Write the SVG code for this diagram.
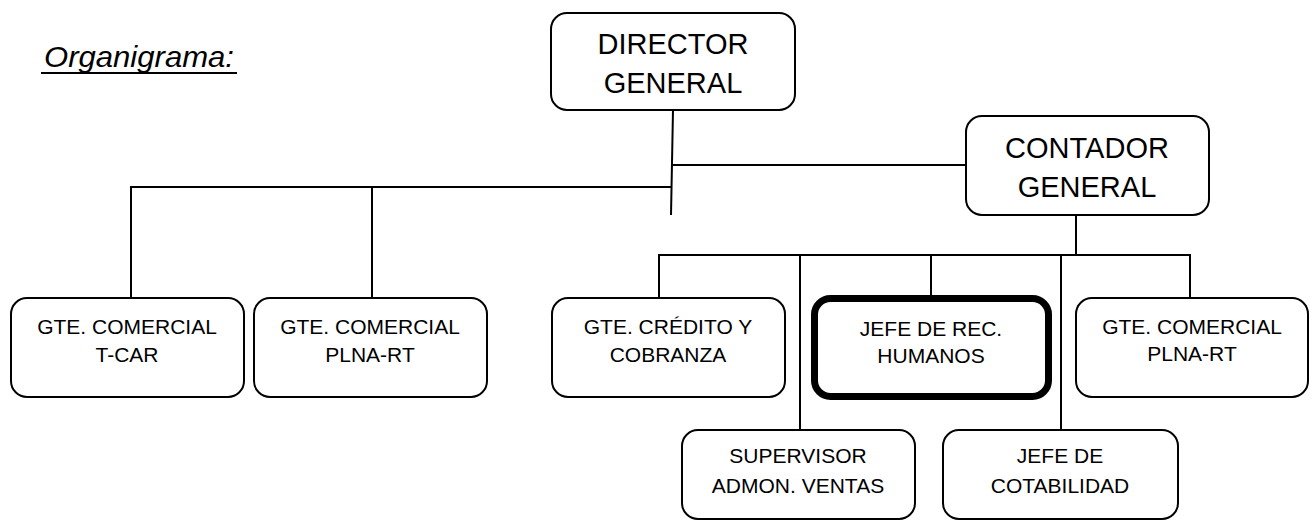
<svg xmlns="http://www.w3.org/2000/svg" width="1312" height="522" viewBox="0 0 1312 522">
  <style>
    .box { fill: #ffffff; stroke: #000000; stroke-width: 2; }
    .box-bold { fill: #ffffff; stroke: #000000; stroke-width: 7; }
    .link { fill: none; stroke: #000000; stroke-width: 2; }
    text { font-family: "Liberation Sans", Arial, sans-serif; fill: #000000; text-anchor: middle; }
    .big { font-size: 29px; }
    .small { font-size: 21px; }
    .title { font-size: 29px; font-style: italic; text-anchor: start; }
  </style>

  <rect width="1312" height="522" fill="#ffffff"/>

  <!-- heading -->
  <g id="title">
    <text class="title" x="44" y="67" textLength="190" lengthAdjust="spacingAndGlyphs">Organigrama:</text>
    <line x1="41" y1="73" x2="237" y2="73" stroke="#000000" stroke-width="2"/>
  </g>

  <!-- connectors -->
  <g id="connectors">
    <line class="link" x1="673" y1="110" x2="671" y2="215"/>
    <line class="link" x1="672" y1="165" x2="966" y2="165"/>
    <polyline class="link" points="131,298 131,187 672,187"/>
    <line class="link" x1="372" y1="187" x2="372" y2="298"/>
    <line class="link" x1="1076" y1="215" x2="1076" y2="255"/>
    <polyline class="link" points="659,298 659,255 1190,255 1190,298"/>
    <line class="link" x1="800" y1="255" x2="800" y2="430"/>
    <line class="link" x1="931" y1="255" x2="931" y2="296"/>
    <line class="link" x1="1061" y1="255" x2="1061" y2="430"/>
  </g>

  <g id="director-general">
    <rect class="box" x="551" y="13" width="244" height="97" rx="16"/>
    <text class="big" x="673" y="54">DIRECTOR</text>
    <text class="big" x="673" y="93">GENERAL</text>
  </g>

  <g id="contador-general">
    <rect class="box" x="966" y="116" width="243" height="99" rx="16"/>
    <text class="big" x="1087" y="158">CONTADOR</text>
    <text class="big" x="1087" y="197">GENERAL</text>
  </g>

  <g id="gte-comercial-tcar">
    <rect class="box" x="11" y="298" width="233" height="99" rx="16"/>
    <text class="small" x="127" y="334">GTE. COMERCIAL</text>
    <text class="small" x="127" y="362">T-CAR</text>
  </g>

  <g id="gte-comercial-plna-rt-1">
    <rect class="box" x="254" y="298" width="233" height="99" rx="16"/>
    <text class="small" x="370" y="334">GTE. COMERCIAL</text>
    <text class="small" x="370" y="362">PLNA-RT</text>
  </g>

  <g id="gte-credito-cobranza">
    <rect class="box" x="552" y="298" width="233" height="99" rx="16"/>
    <text class="small" x="668" y="334">GTE. CRÉDITO Y</text>
    <text class="small" x="668" y="362">COBRANZA</text>
  </g>

  <g id="jefe-rec-humanos">
    <rect class="box-bold" x="814.5" y="298.5" width="234" height="98" rx="16"/>
    <text class="small" x="931" y="336">JEFE DE REC.</text>
    <text class="small" x="931" y="363">HUMANOS</text>
  </g>

  <g id="gte-comercial-plna-rt-2">
    <rect class="box" x="1076" y="298" width="232" height="99" rx="16"/>
    <text class="small" x="1192" y="334">GTE. COMERCIAL</text>
    <text class="small" x="1192" y="361">PLNA-RT</text>
  </g>

  <g id="supervisor-admon-ventas">
    <rect class="box" x="682" y="430" width="233" height="89" rx="16"/>
    <text class="small" x="798" y="463">SUPERVISOR</text>
    <text class="small" x="798" y="493">ADMON. VENTAS</text>
  </g>

  <g id="jefe-cotabilidad">
    <rect class="box" x="943" y="430" width="235" height="89" rx="16"/>
    <text class="small" x="1060" y="463">JEFE DE</text>
    <text class="small" x="1060" y="493">COTABILIDAD</text>
  </g>
</svg>
